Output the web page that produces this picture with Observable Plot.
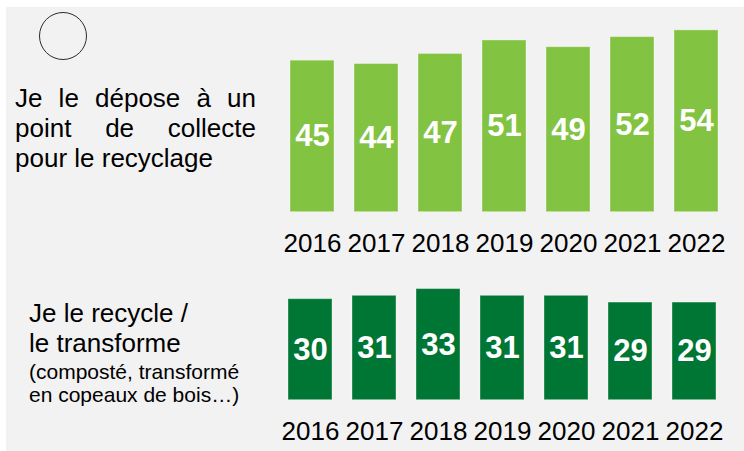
<!DOCTYPE html>
<html lang="fr">
<head>
<meta charset="utf-8">
<script src="https://cdn.jsdelivr.net/npm/d3@7"></script>
<script src="https://cdn.jsdelivr.net/npm/@observablehq/plot@0.6"></script>
<style>
  html, body { margin: 0; padding: 0; background: #ffffff; }
  #page {
    position: relative; width: 744px; height: 451px; overflow: hidden;
    font-family: "Liberation Sans", Arial, sans-serif; color: #000;
  }
  #panel { position: absolute; left: 6px; top: 7px; right: 0; bottom: 0; background: #f2f2f2; }
  #ring {
    position: absolute; left: 39px; top: 12px; width: 46px; height: 46px;
    border: 1.2px solid #2b2b2b; border-radius: 50%;
  }
  .txt { position: absolute; white-space: nowrap; }
  #depose {
    position: absolute; left: 15px; top: 82.5px; width: 241px;
    font-size: 26px; line-height: 30px; text-align: justify;
  }
  .big { font-size: 26px; line-height: 26px; }
  .small { font-size: 21px; line-height: 21px; }
  .chart { position: absolute; left: 0; }
</style>
</head>
<body>
<div id="page">
  <div id="panel"></div>
  <div id="ring"></div>
  <div id="depose">Je le dépose à un point de collecte pour le recyclage</div>
  <div class="txt big" style="left:29px; top:300px;">Je le recycle /</div>
  <div class="txt big" style="left:29px; top:329.5px;">le transforme</div>
  <div class="txt small" style="left:29px; top:361.2px;">(composté, transformé</div>
  <div class="txt small" style="left:29px; top:383.7px;">en copeaux de bois…)</div>
  <div id="chartTop" class="chart" style="top:0px;"></div>
  <div id="chartBottom" class="chart" style="top:260px;"></div>
</div>
<script>
// Survey years and shares (%) for each disposal practice
const years = ["2016", "2017", "2018", "2019", "2020", "2021", "2022"];
const collectPoint = [45, 44, 47, 51, 49, 52, 54];
const recycleTransform = [30, 31, 33, 31, 31, 29, 29];

const lightGreen = "#82c341";
const darkGreen = "#007634";

// Same vertical scale (pixels per percentage point) for both panels
const pxPerPoint = 3.367;
const fontFamily = "'Liberation Sans', Arial, sans-serif";

function barPanel(values, color, {height, baseline, marginLeft}) {
  const data = years.map((year, i) => ({year, value: values[i]}));
  const maxValue = d3.max(values);
  const marginTop = baseline - maxValue * pxPerPoint;
  return Plot.plot({
    width: 744,
    height,
    marginLeft,
    marginRight: 744 - marginLeft - 432,
    marginTop,
    marginBottom: height - baseline,
    style: {background: "transparent", fontFamily, color: "#000"},
    x: {type: "band", domain: years, paddingInner: 0.32, paddingOuter: 0, align: 0.5, label: null},
    y: {domain: [0, maxValue], axis: null},
    marks: [
      Plot.barY(data, {
        x: "year", y: "value", fill: color,
        stroke: "#ffffff", strokeOpacity: 0.35, strokeWidth: 1
      }),
      Plot.text(data, {
        x: "year", y: (d) => d.value / 2, text: (d) => String(d.value),
        fill: "#ffffff", fontSize: 31, fontWeight: "bold"
      }),
      Plot.axisX({tickSize: 0, tickPadding: 21, fontSize: 26, label: null, fill: "#000"})
    ]
  });
}

document.getElementById("chartTop").append(
  barPanel(collectPoint, lightGreen, {height: 260, baseline: 211.7, marginLeft: 288})
);
document.getElementById("chartBottom").append(
  barPanel(recycleTransform, darkGreen, {height: 191, baseline: 139.7, marginLeft: 286})
);
</script>
</body>
</html>
